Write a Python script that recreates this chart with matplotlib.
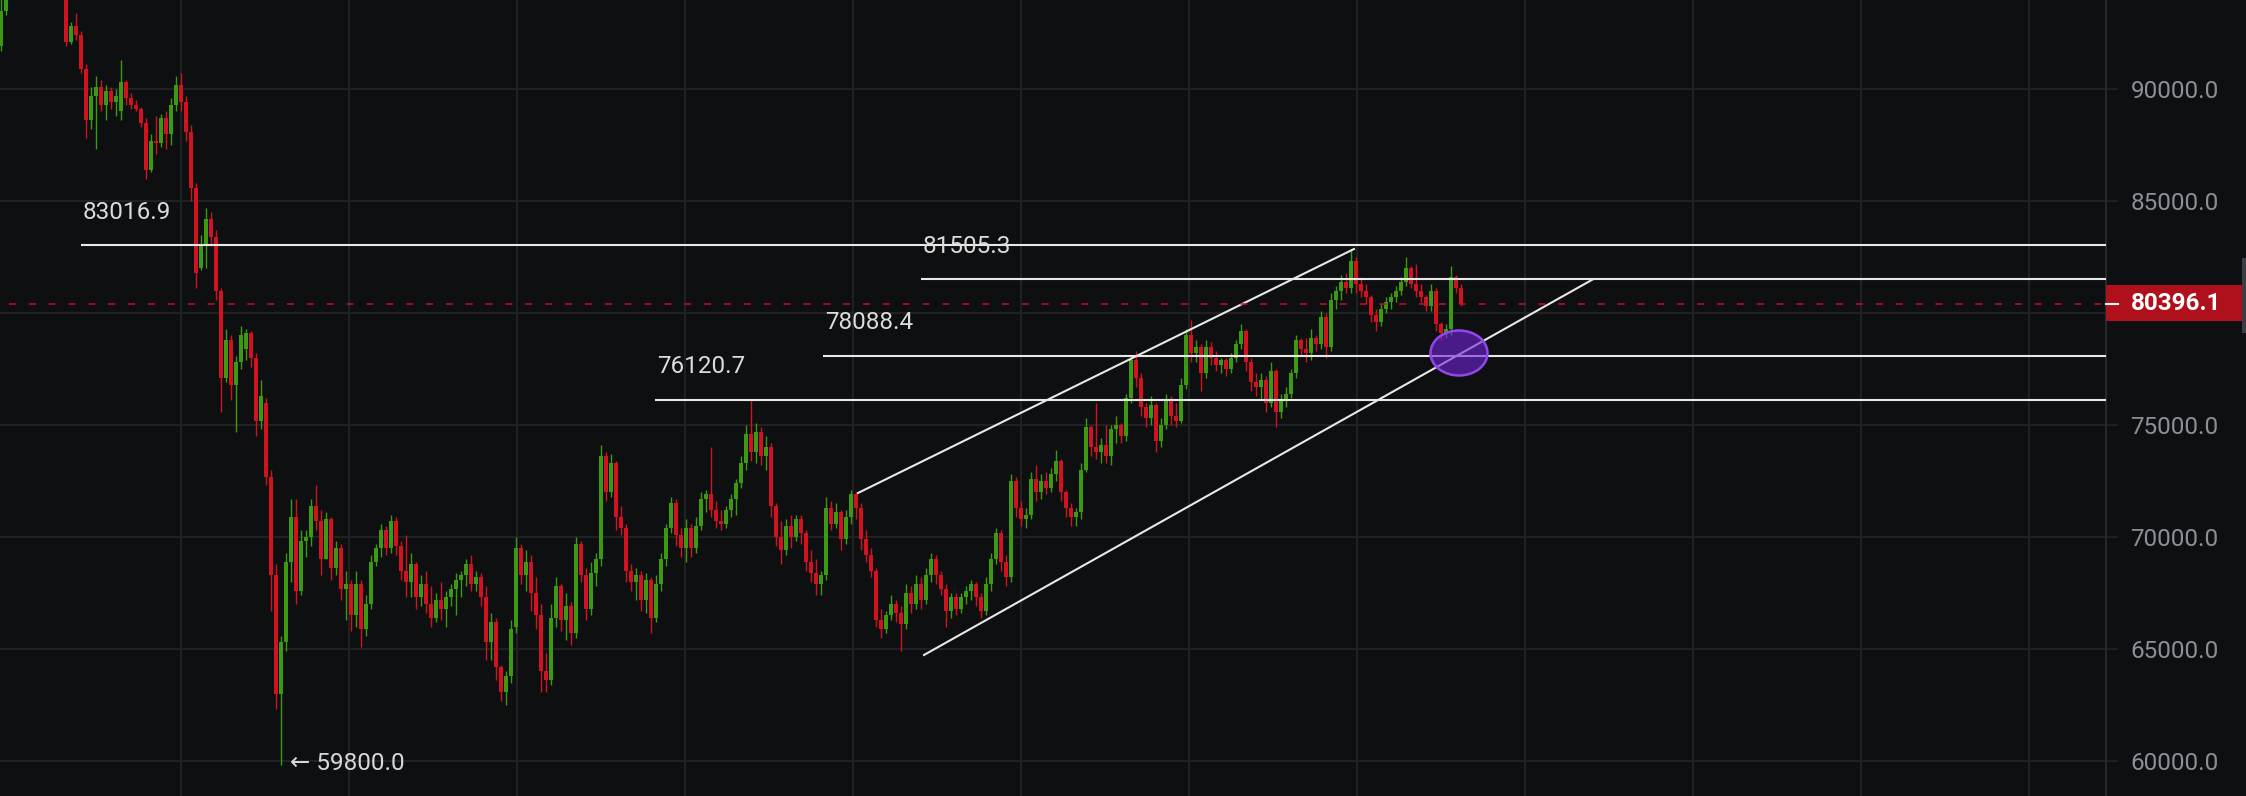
import matplotlib
matplotlib.use("Agg")
import matplotlib.pyplot as plt
from matplotlib.patches import Ellipse, Rectangle
from matplotlib.lines import Line2D
from matplotlib.ticker import FuncFormatter
import numpy as np

plt.rcParams["font.family"] = ["Roboto", "DejaVu Sans"]

BG = "#0e0f11"
GRID = "#1f2125"
UP = "#3c9a12"
DOWN = "#d0131f"
LINE = "#e8e8e8"

# OHLC candles (index = candle number)
opens = [91900, 93500, 94900, 95400, 95700, 95500, 95800, 96200, 95900, 95600,
         95100, 95300, 94800, 94400, 92100, 92800, 92400, 90900, 88600, 89700,
         90100, 89300, 89900, 89400, 89000, 90300, 89600, 89300, 89100, 88500,
         86400, 87700, 87600, 88700, 88000, 89300, 90200, 89400, 88100, 85600,
         82000, 83000, 84200, 83400, 81000, 77100, 78800, 76800, 77800, 78400,
         79100, 78000, 75200, 76000, 72700, 68300, 63000, 65300, 68900, 70900,
         67600, 69800, 70000, 71400, 70700, 69000, 70800, 68600, 69500, 67700,
         67900, 66500, 67900, 65900, 67000, 68900, 69500, 70300, 69500, 70700,
         69600, 68500, 68000, 68800, 67300, 67900, 67000, 66400, 67200, 66800,
         67300, 67700, 68100, 68300, 68800, 67900, 68200, 67300, 65300, 66200,
         64200, 63100, 63800, 66000, 69500, 68300, 68900, 67500, 66500, 64000,
         63600, 66400, 67800, 66300, 66900, 65700, 69700, 68300, 66800, 68400,
         69000, 73600, 72000, 73300, 70900, 70400, 68500, 68000, 68300, 67200,
         68100, 66400, 67900, 69000, 70400, 71500, 70100, 69500, 70400, 69500,
         70500, 71700, 71900, 71200, 70700, 70600, 71200, 71700, 72400, 73300,
         74600, 73800, 74700, 73600, 74000, 71400, 70000, 69400, 70500, 70000,
         70800, 70200, 68900, 68400, 67900, 68300, 71300, 70600, 71100, 69900,
         70900, 71900, 71300, 69900, 69200, 68500, 66300, 65900, 66500, 67000,
         66600, 66100, 67500, 67000, 67900, 67200, 68300, 69000, 68300, 67700,
         66700, 67300, 66800, 67300, 67600, 67900, 67300, 66700, 67900, 69000,
         70200, 68900, 68200, 72500, 71300, 70800, 71000, 72600, 72000, 72500,
         72200, 72800, 73400, 72000, 71300, 70900, 71100, 73000, 74900, 74000,
         73800, 74100, 73600, 74800, 75000, 74500, 76200, 77900, 77100, 75800,
         75300, 75900, 74300, 75000, 76100, 75400, 75200, 76800, 79000, 78200,
         78500, 77300, 78500, 78000, 77700, 77900, 77500, 78000, 78600, 79200,
         77800, 76900, 76700, 77000, 76000, 77400, 75600, 76100, 76400, 77300,
         78800, 78400, 78200, 78900, 78600, 79800, 78500, 80600, 81000, 81400,
         81100, 82300, 81300, 81000, 80700, 79900, 79600, 80200, 80500, 80700,
         81000, 81400, 82000, 81300, 81000, 80700, 80300, 81000, 79500, 79100,
         79300, 81600, 81100]
highs = [94500, 95200, 95800, 96100, 96400, 96000, 96600, 96800, 96300, 96000,
         95700, 95600, 95200, 94600, 93000, 93400, 92600, 91100, 90100, 90600,
         90400, 90200, 90100, 90000, 91300, 90400, 89800, 89500, 89200, 88700,
         88000, 88800, 88900, 89000, 89600, 90600, 90700, 89700, 88400, 85800,
         83500, 84700, 84500, 83700, 81100, 79300, 79000, 78100, 79400, 79300,
         79200, 78200, 77000, 76200, 73000, 68800, 65600, 69300, 71700, 71700,
         70300, 70300, 71700, 72300, 71200, 71100, 70900, 69800, 69700, 68500,
         68100, 68500, 68100, 67400, 69200, 69700, 70600, 70500, 71000, 70900,
         69800, 70100, 69300, 68900, 68300, 68500, 67800, 67500, 68000, 67600,
         67900, 68400, 68500, 69000, 69200, 68500, 68400, 67800, 66600, 66400,
         64300, 64000, 66300, 70000, 69700, 69400, 69200, 68200, 67000, 64800,
         67000, 68200, 67900, 67500, 67100, 70000, 69800, 68600, 68900, 69300,
         74100, 73800, 73700, 73400, 71400, 70600, 68800, 68600, 68500, 68400,
         68200, 68300, 69300, 70600, 71800, 71700, 70400, 70800, 70600, 70900,
         72000, 72100, 74000, 71600, 71200, 71400, 71900, 72600, 73600, 75000,
         76120, 75100, 74900, 74500, 74200, 71500, 70700, 70800, 71000, 71000,
         71000, 70300, 69400, 69000, 68500, 71800, 71600, 71500, 71200, 71200,
         72100, 72000, 71500, 70300, 69500, 68600, 66800, 66700, 67400, 67200,
         66900, 67900, 67800, 68300, 68200, 68600, 69300, 69200, 68500, 67900,
         67500, 67500, 67500, 67800, 68100, 68000, 67500, 68200, 69300, 70400,
         70300, 69200, 72800, 72700, 71600, 71300, 72900, 73200, 72800, 72900,
         73100, 73900, 73500, 72100, 71500, 71300, 73300, 75300, 75000, 76000,
         74400, 75000, 75000, 75400, 75100, 76400, 78100, 78300, 77300, 76000,
         76300, 76000, 75300, 76400, 76300, 76000, 77100, 79300, 79700, 78800,
         78600, 78800, 78700, 78300, 78000, 78000, 78200, 78800, 79500, 79300,
         78000, 77300, 77300, 77200, 77800, 77500, 76400, 76700, 77500, 79000,
         78900, 78900, 79300, 79000, 80100, 80000, 80900, 81200, 81700, 81800,
         82850, 82500, 81600, 81300, 80800, 80200, 80400, 80700, 80900, 81200,
         81600, 82500, 82100, 82200, 81300, 80800, 81300, 81100, 79600, 79500,
         82100, 81700, 81300]
lows = [91700, 93300, 94500, 95000, 95300, 94900, 95500, 95700, 95200, 94800,
        94600, 94500, 94100, 91900, 92000, 92200, 90700, 87800, 88200, 87300,
        89000, 88600, 89100, 88800, 88600, 89300, 89100, 89000, 88300, 86000,
        86300, 87100, 87400, 87300, 87500, 89000, 89000, 87700, 85000, 81100,
        81900, 82000, 83000, 80600, 75600, 76900, 76100, 74700, 77500, 77900,
        77600, 74500, 74800, 72300, 66700, 62300, 59800, 64900, 68000, 67000,
        67400, 69100, 69600, 70300, 68300, 69000, 68100, 68300, 67200, 66300,
        65800, 66000, 65100, 65600, 66800, 68700, 69100, 69200, 69300, 69200,
        68100, 67300, 67300, 66800, 66900, 66600, 66000, 66200, 66300, 66000,
        66900, 66500, 67300, 67800, 67600, 67600, 66900, 64500, 64500, 63600,
        62700, 62500, 63500, 65700, 67900, 67600, 66700, 65900, 63100, 63100,
        63400, 66000, 65800, 65400, 65200, 65500, 68000, 66300, 66500, 67800,
        68700, 71600, 71800, 70300, 70100, 68000, 67600, 67200, 66700, 66600,
        65700, 66200, 67600, 68700, 70200, 69600, 69100, 68900, 69100, 69300,
        70300, 71100, 70900, 70400, 70300, 70400, 70900, 71000, 72200, 73000,
        73400, 73300, 73200, 73000, 70900, 69600, 68800, 69200, 69500, 69800,
        69700, 68500, 68000, 67400, 67400, 68100, 70300, 70400, 69400, 69700,
        70600, 70800, 69400, 68900, 68200, 66000, 65500, 65700, 66300, 66200,
        64900, 65900, 66600, 66800, 66800, 67000, 68000, 67900, 67400, 66000,
        66400, 66500, 66600, 67000, 67200, 66900, 66400, 66500, 67600, 68800,
        68500, 67800, 68000, 70900, 70500, 70400, 70800, 71600, 71700, 71900,
        72000, 72500, 71600, 70900, 70500, 70500, 70800, 72900, 73600, 73500,
        73300, 73300, 73200, 74200, 74200, 74300, 76000, 76700, 75400, 74900,
        75000, 73800, 74000, 74800, 75000, 74900, 75100, 76600, 77800, 77800,
        76500, 77100, 77700, 77400, 77300, 77200, 77300, 77800, 78400, 77400,
        76500, 76300, 76100, 75600, 75800, 74900, 75300, 75800, 76200, 77100,
        78100, 77800, 77900, 78300, 78400, 78000, 78300, 80200, 80600, 80900,
        80900, 80900, 80700, 80400, 79600, 79200, 79400, 80000, 80200, 80500,
        80800, 81200, 81100, 80700, 80500, 80100, 80100, 79200, 78800, 78900,
        79000, 80900, 80300]
closes = [93500, 94900, 95400, 95700, 95500, 95800, 96200, 95900, 95600, 95100,
          95300, 94800, 94400, 92100, 92800, 92400, 90900, 88600, 89700, 90100,
          89300, 89900, 89400, 89700, 90300, 89600, 89300, 89100, 88500, 86400,
          87700, 87600, 88700, 88000, 89300, 90200, 89400, 88100, 85600, 81800,
          83000, 84200, 83400, 81000, 77100, 78800, 76800, 77800, 79000, 79100,
          78000, 75200, 76300, 72700, 68300, 63000, 65300, 68900, 70900, 67600,
          69800, 70000, 71400, 70700, 69000, 70800, 68600, 69500, 67700, 67900,
          66500, 67900, 65900, 67000, 68900, 69500, 70300, 69500, 70700, 69600,
          68500, 68000, 68800, 67300, 67900, 67000, 66400, 67200, 66800, 67300,
          67700, 68100, 68300, 68800, 67900, 68200, 67300, 65300, 66200, 64200,
          63100, 63800, 65900, 69500, 68300, 68900, 67500, 66500, 64000, 63600,
          66400, 67800, 66300, 66900, 65700, 69700, 68300, 66800, 68400, 69000,
          73600, 72000, 73300, 70900, 70400, 68500, 68000, 68300, 67200, 68100,
          66400, 67900, 69000, 70400, 71500, 70100, 69500, 70400, 69500, 70500,
          71700, 71900, 71200, 70700, 70600, 71200, 71700, 72400, 73300, 74600,
          73800, 74700, 73600, 74000, 71400, 70000, 69400, 70500, 70000, 70800,
          70200, 68900, 68400, 67900, 68300, 71300, 70600, 71100, 69900, 70900,
          71900, 71300, 69900, 69200, 68500, 66300, 65900, 66500, 67000, 66600,
          66100, 67500, 67000, 67900, 67200, 68300, 69000, 68300, 67700, 66700,
          67300, 66800, 67300, 67600, 67900, 67300, 66700, 67900, 69000, 70200,
          68900, 68200, 72500, 71300, 70800, 71000, 72600, 72000, 72500, 72200,
          72800, 73400, 72000, 71300, 70900, 71100, 73000, 74900, 74000, 73800,
          74100, 73600, 74800, 75000, 74500, 76200, 77900, 77100, 75800, 75300,
          75900, 74300, 75000, 76100, 75400, 75200, 76800, 79000, 78200, 78500,
          77300, 78500, 78000, 77700, 77900, 77500, 78000, 78600, 79200, 77800,
          76900, 76700, 77000, 76000, 77400, 75600, 76100, 76400, 77300, 78800,
          78400, 78200, 78900, 78600, 79800, 78500, 80600, 81000, 81400, 81100,
          82300, 81300, 81000, 80700, 79900, 79600, 80200, 80500, 80700, 81000,
          81400, 82000, 81300, 81000, 80700, 80300, 81000, 79500, 79100, 79300,
          81600, 81100, 80396.1]

# drawn levels and their start candle
LEVELS = [83016.9, 81505.3, 78088.4, 76120.7]
LEVEL_START = [16, 184, 164.4, 130.8]
LAST_PRICE = 80396.1
LOW_PRICE = 59800.0
LOW_IDX = 56
Y_TICKS = [60000, 65000, 70000, 75000, 80000, 85000, 90000]
HIDDEN_TICK = 80000  # covered by the last-price tag
CHANNEL_UPPER = ([171.4, 270.6], [71964, 82857])
CHANNEL_LOWER = ([184.6, 318.4], [64732, 81505.3])
MARK = (291.6, 78214)

W, H = 2246, 796
fig = plt.figure(figsize=(W / 100, H / 100), dpi=100, facecolor=BG)
ax = fig.add_axes([0, 0, 2106 / W, 1], facecolor=BG)

x = np.arange(len(closes))
o = np.array(opens, dtype=float)
c = np.array(closes, dtype=float)
cols = [UP if cc >= oo else DOWN for oo, cc in zip(o, c)]
ax.vlines(x, lows, highs, colors=cols, lw=1.0, zorder=2)
ax.bar(x, np.maximum(np.abs(c - o), 60), width=0.8, bottom=np.minimum(o, c),
       color=cols, lw=0, zorder=3)

xmax = 421
ax.set_xlim(-0.2, xmax)
ax.set_ylim(58437, 93973)

# grid + price scale
ax.set_xticks(np.arange(36, xmax, 33.6))
ax.set_yticks(Y_TICKS)
ax.yaxis.tick_right()
ax.yaxis.set_major_formatter(
    FuncFormatter(lambda v, _: "" if v == HIDDEN_TICK else f"{v:.1f}"))
ax.tick_params(axis="x", length=0, labelbottom=False)
ax.tick_params(axis="y", length=8.6, width=1.5, color=GRID, pad=9,
               labelsize=17.5, labelcolor="#8b8f98")
ax.grid(True, color=GRID, lw=1.5)
ax.set_axisbelow(True)
for s in ["left", "top", "bottom"]:
    ax.spines[s].set_visible(False)
ax.spines["right"].set_color("#25282d")
ax.spines["right"].set_linewidth(1.5)

# horizontal levels
for lv, st in zip(LEVELS, LEVEL_START):
    ax.plot([st, xmax], [lv, lv], color=LINE, lw=1.5, zorder=5,
            solid_capstyle="butt")
    ax.annotate(f"{lv:.1f}", xy=(st, lv), xytext=(1.5, 23.8),
                textcoords="offset points", ha="left", va="center",
                color="#dcdcdc", fontsize=17.5, zorder=6)

# channel
ax.plot(*CHANNEL_UPPER, color=LINE, lw=1.5, zorder=5)
ax.plot(*CHANNEL_LOWER, color=LINE, lw=1.5, zorder=5)

# last price dashed line
ax.plot([1.6, xmax], [LAST_PRICE, LAST_PRICE], color="#c4102c", lw=1.1,
        dashes=(4.5, 8.5), zorder=5)

ax.add_patch(Ellipse(MARK, 11.4, 2009, facecolor=(0.447, 0.143, 0.855, 0.6),
                     edgecolor="#9147ea", lw=1.8, zorder=6))

ax.annotate(f"\u2190 {LOW_PRICE:.1f}", xy=(LOW_IDX, LOW_PRICE), xytext=(6.5, 1.5),
            textcoords="offset points", ha="left", va="center",
            color="#d8d8d8", fontsize=17.5)

# price tag on the scale
fig.add_artist(Rectangle((2106 / W, 1 - 321 / H), 137 / W, 36 / H,
                         transform=fig.transFigure, facecolor="#b0101c",
                         edgecolor="none"))
fig.add_artist(Line2D([2106 / W, 2118 / W], [1 - 304 / H] * 2,
                      transform=fig.transFigure, color="white", lw=1.5))
fig.text(2131 / W, 1 - 303 / H, f"{LAST_PRICE:.1f}", color="white",
         fontweight="bold", fontsize=17.5, ha="left", va="center")
fig.add_artist(Rectangle((2242 / W, 1 - 333 / H), 4 / W, 75 / H,
                         transform=fig.transFigure, facecolor="#3a3d44",
                         edgecolor="none"))

fig.savefig("out.png", dpi=100, facecolor=BG)
